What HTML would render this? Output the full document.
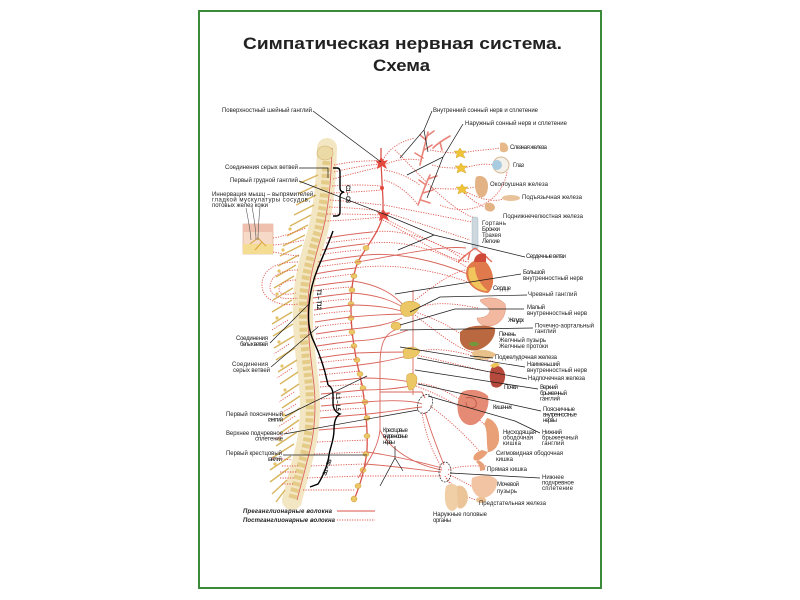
<!DOCTYPE html>
<html><head><meta charset="utf-8">
<style>
html,body{margin:0;padding:0;background:#fff;}
svg{display:block;}
text{font-family:"Liberation Sans","DejaVu Sans",sans-serif;fill:#222;}
.l{font-size:6px;}
.k{stroke:#1a1a1a;stroke-width:0.7;fill:none;}
.r{stroke:#d9665c;stroke-width:0.9;fill:none;}
.d{stroke:#e0574e;stroke-width:0.9;fill:none;stroke-dasharray:1.2 1.3;}
.b{stroke:#000;stroke-width:1.4;fill:none;}
.y{stroke:#d8b55e;stroke-width:1.4;fill:none;}
.p{stroke:#e8847a;stroke-width:1.6;fill:none;stroke-linecap:round;}
.g{fill:#ebc766;stroke:#c99a35;stroke-width:0.5;}
</style></head><body>
<svg width="800" height="600" viewBox="0 0 800 600" xmlns="http://www.w3.org/2000/svg">
<rect width="800" height="600" fill="#fff"/>
<rect x="199" y="11" width="402" height="577" fill="none" stroke="#3a8a3a" stroke-width="2"/>

<!-- Title -->
<text x="243" y="49" font-size="17" font-weight="bold" textLength="319" lengthAdjust="spacingAndGlyphs">Симпатическая нервная система.</text>
<text x="373" y="71" font-size="17" font-weight="bold" textLength="57" lengthAdjust="spacingAndGlyphs">Схема</text>

<!-- Spine -->
<path d="M327,148 C326,180 324,205 318,230 C312,252 305,272 303,300 C302,330 306,360 309,385 C311,405 310,430 305,450 C300,470 296,485 292,500" stroke="#f3e6c2" stroke-width="20" fill="none" stroke-linecap="round"/>
<path d="M327,148 C326,180 324,205 318,230 C312,252 305,272 303,300 C302,330 306,360 309,385 C311,405 310,430 305,450 C300,470 296,485 292,500" stroke="#e4cb88" stroke-width="8" fill="none" stroke-dasharray="4 2.5"/>
<path d="M332,148 C331,180 329,205 323,230 C317,252 310,272 308,300 C307,330 311,360 314,385 C316,405 315,430 310,450 C305,470 301,485 297,500" class="r"/>
<ellipse cx="325" cy="153" rx="8" ry="7" fill="#ecdaa6" stroke="#cdb06c" stroke-width="0.6"/>

<!-- spinal nerves (yellow) -->
<g class="y">
<path d="M318,175 L300,183"/><path d="M317,185 L298,194"/><path d="M316,195 L296,205"/><path d="M314,205 L294,215"/>
<path d="M311,215 L290,226"/><path d="M308,225 L287,236"/><path d="M305,235 L283,246"/><path d="M302,245 L280,256"/>
<path d="M299,255 L278,266"/><path d="M296,265 L276,277"/><path d="M294,276 L274,288"/><path d="M293,288 L273,300"/>
<path d="M292,300 L272,312"/><path d="M292,312 L272,324"/><path d="M293,324 L273,336"/><path d="M294,336 L274,348"/>
<path d="M295,348 L276,360"/><path d="M297,360 L278,372"/><path d="M298,372 L280,384"/><path d="M299,384 L281,396"/>
<path d="M300,396 L282,408"/><path d="M300,408 L281,421"/><path d="M299,420 L279,434"/><path d="M297,432 L276,446"/>
<path d="M294,444 L272,458"/><path d="M291,456 L270,470"/><path d="M289,468 L270,482"/><path d="M287,480 L272,494"/><path d="M285,490 L276,502"/>
</g>
<g fill="#e6c46a">
<circle cx="290" cy="229" r="1.6"/><circle cx="283" cy="250" r="1.6"/><circle cx="279" cy="271" r="1.6"/><circle cx="277" cy="294" r="1.6"/>
<circle cx="277" cy="318" r="1.6"/><circle cx="279" cy="342" r="1.6"/><circle cx="282" cy="366" r="1.6"/><circle cx="285" cy="390" r="1.6"/>
<circle cx="284" cy="415" r="1.6"/><circle cx="280" cy="440" r="1.6"/><circle cx="275" cy="464" r="1.6"/>
</g>

<!-- left dotted fibres -->
<g class="d">
<path d="M298,262 C275,262 262,270 262,285 C262,300 280,307 298,304"/>
<path d="M298,270 C281,270 270,276 270,287 C270,297 283,300 298,298"/>
<path d="M296,280 C286,280 279,284 279,290 C279,295 288,295 296,293"/>
<path d="M273,238 C285,236 295,232 306,228"/>
<path d="M273,245 C285,244 296,242 304,240"/>
<path d="M273,252 C285,254 294,256 300,256"/>
<path d="M288,320 L272,330"/><path d="M289,344 L274,354"/><path d="M292,368 L277,378"/><path d="M294,392 L279,402"/>
<path d="M296,404 L280,414"/><path d="M295,416 L278,427"/><path d="M293,428 L275,440"/>
<path d="M282,466 L298,466"/><path d="M280,472 L297,472"/><path d="M280,478 L295,478"/><path d="M282,484 L293,484"/><path d="M272,458 L292,460"/>
</g>

<!-- Skin block -->
<rect x="243" y="224" width="30" height="30" fill="#f6d9c6" stroke="#d9a58c" stroke-width="0.6"/>
<rect x="243" y="224" width="30" height="8" fill="#f0c0ae"/>
<rect x="243" y="244" width="30" height="10" fill="#f4dc92"/>
<path d="M250,244 L258,238 L266,246 M255,250 L262,242" stroke="#d9a63a" stroke-width="1" fill="none"/>
<path d="M246,208 C248,218 250,228 251,240 M252,207 C254,218 256,228 256,240 M260,207 C259,218 258,228 258,240" stroke="#555" stroke-width="0.6" fill="none"/>

<!-- Right sympathetic chain -->
<path d="M381,148 L381,163 L383,200 L383,215 C380,230 368,245 360,258 C353,270 351,290 351,310 C351,335 356,360 362,385 C366,410 368,430 367,450 C365,470 360,485 354,500" stroke="#d9534a" stroke-width="1.3" fill="none"/>
<g fill="#e4483c">
<path d="M381,157 L384,161 L388,160 L385,164 L387,169 L382,166 L377,169 L378,164 L375,160 L379,161Z"/>
<path d="M383,209 L386,213 L390,212 L387,216 L389,221 L384,218 L379,221 L380,216 L377,212 L381,213Z"/>
<circle cx="382" cy="188" r="2"/>
</g>
<g class="g">
<ellipse cx="366" cy="248" rx="3" ry="2.5"/><ellipse cx="358" cy="262" rx="3" ry="2.5"/><ellipse cx="354" cy="276" rx="3" ry="2.5"/>
<ellipse cx="352" cy="290" rx="3" ry="2.5"/><ellipse cx="351" cy="304" rx="3" ry="2.5"/><ellipse cx="351" cy="318" rx="3" ry="2.5"/>
<ellipse cx="352" cy="332" rx="3" ry="2.5"/><ellipse cx="354" cy="346" rx="3" ry="2.5"/><ellipse cx="357" cy="360" rx="3" ry="2.5"/>
<ellipse cx="360" cy="374" rx="3" ry="2.5"/><ellipse cx="363" cy="388" rx="3" ry="2.5"/><ellipse cx="365" cy="402" rx="3" ry="2.5"/>
<ellipse cx="367" cy="418" rx="3" ry="2.5"/><ellipse cx="367" cy="436" rx="3" ry="2.5"/><ellipse cx="366" cy="454" rx="3" ry="2.5"/>
<ellipse cx="363" cy="470" rx="3" ry="2.5"/><ellipse cx="358" cy="486" rx="3" ry="2.5"/><ellipse cx="354" cy="499" rx="3" ry="3"/>
</g>

<!-- cervical connections (dotted) -->
<g class="d">
<path d="M334,165 Q358,160 380,161"/><path d="M334,172 Q358,166 380,164"/><path d="M333,179 Q358,172 380,167"/>
<path d="M332,186 Q358,184 381,186"/><path d="M331,193 Q358,192 382,190"/><path d="M330,200 Q358,202 382,205"/>
<path d="M329,207 Q358,208 382,211"/><path d="M327,214 Q356,214 382,215"/><path d="M325,221 Q355,220 381,217"/>
</g>

<!-- thoracic / lumbar connections (solid + dotted) -->
<g class="r">
<path d="M327,238 Q350,234 372,232"/><path d="M322,250 Q345,246 364,244"/><path d="M318,262 Q340,258 359,256"/>
<path d="M315,274 Q336,270 355,268"/><path d="M314,286 Q334,283 353,281"/><path d="M313,298 Q333,295 352,293"/>
<path d="M314,310 Q333,307 351,305"/><path d="M315,322 Q334,319 351,317"/><path d="M316,334 Q335,331 352,329"/>
<path d="M317,346 Q336,343 354,341"/><path d="M318,358 Q338,355 356,353"/><path d="M319,370 Q340,367 359,365"/>
<path d="M320,382 Q342,380 362,378"/><path d="M321,394 Q343,392 364,390"/><path d="M321,406 Q344,404 366,402"/>
<path d="M320,418 Q344,416 367,414"/><path d="M319,430 Q344,428 367,426"/>
</g>
<g class="d">
<path d="M326,243 Q350,240 370,238"/><path d="M320,255 Q343,251 362,250"/><path d="M317,267 Q338,264 357,262"/>
<path d="M315,279 Q335,276 354,274"/><path d="M313,291 Q333,288 352,287"/><path d="M313,303 Q333,300 351,299"/>
<path d="M314,315 Q333,312 351,311"/><path d="M315,327 Q334,324 351,323"/><path d="M316,339 Q335,336 353,335"/>
<path d="M317,351 Q337,348 355,347"/><path d="M318,363 Q339,360 357,359"/><path d="M319,375 Q341,373 360,371"/>
<path d="M320,387 Q342,385 363,384"/><path d="M321,399 Q344,397 365,396"/><path d="M320,411 Q344,409 366,408"/>
<path d="M317,442 Q342,441 367,440"/><path d="M314,454 Q340,453 366,452"/><path d="M311,466 Q337,465 364,464"/>
<path d="M307,478 Q333,477 360,476"/><path d="M303,490 Q330,490 355,490"/>
</g>

<!-- head region -->
<g class="d">
<path d="M383,160 C388,150 398,142 415,138"/><path d="M384,165 C395,160 405,158 420,160"/>
<path d="M384,170 C398,172 410,178 420,185"/><path d="M384,180 C400,185 410,195 418,205"/>
<path d="M384,205 C410,210 440,216 472,222"/><path d="M384,212 C410,220 440,230 470,240"/>
<path d="M384,218 C410,232 440,246 466,256"/>
<path d="M430,150 C440,152 450,153 458,153"/><path d="M432,165 C442,168 450,168 458,168"/>
<path d="M430,188 C440,189 450,189 459,189"/>
<path d="M463,153 C475,150 490,150 500,148"/><path d="M464,168 C475,165 485,163 493,165"/>
<path d="M465,189 C470,188 474,187 476,187"/><path d="M465,191 C480,200 495,202 503,199"/>
<path d="M464,193 C472,200 480,206 486,207"/>
<path d="M440,205 C470,218 502,202 507,172"/>
<path d="M395,150 C420,175 450,210 475,218"/>
</g>
<g class="p">
<path d="M420,165 C422,155 425,145 428,132"/><path d="M424,150 L432,145"/><path d="M426,140 L420,135"/><path d="M427,136 L434,131"/><path d="M423,158 L415,153"/>
<path d="M418,205 C422,195 425,185 430,175"/><path d="M423,193 L433,190"/><path d="M426,185 L419,180"/><path d="M428,179 L437,176"/><path d="M421,200 L430,203"/>
<path d="M433,148 C438,143 443,140 450,136"/><path d="M440,142 L442,150"/>
</g>
<g fill="#f0c43a" stroke="#c89a20" stroke-width="0.4">
<path d="M460,148 L462,151 L466,151 L463,154 L465,158 L460,156 L456,158 L457,154 L454,151 L458,151Z"/>
<path d="M461,163 L463,166 L467,166 L464,169 L466,173 L461,171 L457,173 L458,169 L455,166 L459,166Z"/>
<path d="M462,184 L464,187 L468,187 L465,190 L467,194 L462,192 L458,194 L459,190 L456,187 L460,187Z"/>
</g>

<!-- heart & lungs region lines -->
<g class="d">
<path d="M372,232 C400,228 440,240 466,262"/><path d="M364,244 C400,238 440,250 468,268"/>
<path d="M355,268 C395,262 440,272 468,282"/><path d="M383,220 C420,240 445,260 470,262"/>
</g>
<g class="r">
<path d="M359,256 C395,250 440,262 470,275"/><path d="M357,262 C395,256 440,245 466,248"/>
</g>

<!-- splanchnic -->
<g class="r">
<path d="M353,281 C380,285 395,295 405,307"/><path d="M352,293 C380,295 395,302 406,309"/>
<path d="M351,305 C375,305 392,308 404,312"/><path d="M351,317 C375,315 392,314 405,314"/>
<path d="M352,329 C375,327 390,324 402,318"/><path d="M354,341 C380,340 395,335 408,330"/>
<path d="M356,353 C380,352 395,352 410,352"/><path d="M359,365 C385,362 400,358 410,355"/>
<path d="M362,378 C385,378 400,380 410,382"/><path d="M364,390 C385,390 400,388 411,386"/>
<path d="M366,402 C390,400 410,400 422,404"/><path d="M367,414 C390,412 410,408 422,407"/>
<path d="M413,290 L413,395"/>
<path d="M395,330 C382,335 380,350 380,365 L380,430 C378,448 368,462 358,478"/>
<path d="M380,392 L422,392 L425,398"/>
<path d="M425,412 C430,430 438,450 444,465"/>
<path d="M367,452 C395,456 420,462 442,468"/><path d="M364,464 C395,466 420,470 441,472"/>
<path d="M380,430 C390,450 415,465 442,470"/>
</g>
<g class="d">
<path d="M422,412 C425,435 434,455 441,466"/>
<path d="M360,476 C395,476 420,476 442,476"/>
<path d="M415,308 C440,300 460,305 478,308"/><path d="M415,312 C440,320 455,330 462,335"/>
<path d="M415,315 C440,335 460,350 474,353"/><path d="M416,355 C440,360 470,368 490,372"/>
<path d="M416,352 C440,345 470,355 495,362"/><path d="M416,383 C440,385 450,395 462,400"/>
<path d="M416,386 C440,395 470,410 485,425"/><path d="M430,406 C450,420 470,440 480,452"/>
<path d="M448,470 C460,465 475,466 487,466"/><path d="M448,474 C460,480 470,485 474,488"/>
<path d="M446,478 C450,485 455,488 456,492"/><path d="M445,476 C455,490 470,500 478,500"/>
<path d="M415,300 C430,290 445,275 465,270"/>
</g>
<!-- prevertebral ganglia -->
<g class="g">
<path d="M401,305 C405,300 415,300 420,305 C418,312 412,318 404,316 C400,313 400,309 401,305Z"/>
<path d="M403,350 C408,346 416,346 420,351 C418,357 410,360 404,358Z"/>
<path d="M407,375 C410,372 416,373 417,378 C417,385 414,391 409,390 C407,385 406,380 407,375Z"/>
<ellipse cx="396" cy="326" rx="5" ry="4"/>
</g>
<ellipse cx="425" cy="404" rx="7" ry="10" transform="rotate(25 425 404)" fill="none" stroke="#222" stroke-width="0.7" stroke-dasharray="2 1"/>
<ellipse cx="445" cy="472" rx="6" ry="10" fill="none" stroke="#222" stroke-width="0.7" stroke-dasharray="2 1"/>

<!-- organs -->
<path d="M500,143 C505,141 509,145 508,150 C506,153 501,153 500,150Z" fill="#e6b88a"/>
<circle cx="501" cy="165" r="8" fill="#f4f0ea" stroke="#d9b894" stroke-width="1"/>
<circle cx="497" cy="165" r="5" fill="#a9cbe0"/>
<path d="M476,177 C482,174 488,178 488,186 C488,194 484,199 479,197 C475,192 474,184 476,177Z" fill="#e3b386"/>
<ellipse cx="511" cy="198" rx="9" ry="3" fill="#e8c29a"/>
<path d="M485,204 C489,201 495,203 495,208 C494,212 488,213 485,209Z" fill="#e3b386"/>
<rect x="472" y="217" width="6" height="33" rx="2" fill="#cdd8de" stroke="#a9b8c2" stroke-width="0.5"/>
<path d="M475,248 L462,258 M475,248 L488,258 M466,255 L458,262 M484,255 L492,262 M470,252 L468,260" stroke="#e56e5e" stroke-width="1.4" fill="none"/>
<path d="M468,266 C462,276 470,292 488,293 C496,286 494,270 486,262 C480,258 472,260 468,266Z" fill="#e0794c"/>
<path d="M469,268 C466,280 474,291 488,291 C480,284 475,276 475,267Z" fill="#f2c45c"/>
<path d="M474,262 C474,255 480,252 486,254 L486,262Z" fill="#d04a3a"/>
<path d="M480,300 C490,296 500,298 505,304 C507,312 503,322 494,325 C486,328 478,325 477,318 C482,318 488,317 490,311 C488,305 482,305 480,300Z" fill="#f3b9a0" stroke="#d98a70" stroke-width="0.5"/>
<path d="M460,332 C468,325 485,324 495,328 C496,336 490,346 478,350 C468,352 461,347 460,340Z" fill="#b9683f"/>
<ellipse cx="474" cy="344" rx="5" ry="2" fill="#6f9a3c"/>
<path d="M472,352 C480,348 490,350 496,354 C494,359 484,361 476,359 C473,357 472,355 472,352Z" fill="#e8c08a"/>
<path d="M492,367 C500,363 506,370 505,378 C504,386 497,390 492,386 C489,380 489,372 492,367Z" fill="#b54a3c"/>
<path d="M490,366 C493,362 498,362 500,365 L494,368Z" fill="#f0c45a"/>
<path d="M462,392 C470,388 482,390 488,396 C490,405 486,414 480,420 C474,428 464,426 460,418 C456,410 457,398 462,392Z" fill="#e58a74"/>
<path d="M466,398 C472,396 478,400 476,406 C472,410 466,408 466,402" stroke="#c25e4c" stroke-width="1" fill="none"/>
<path d="M487,418 C496,420 500,430 499,440 C498,448 492,452 488,452 C486,442 488,430 484,424Z" fill="#e9a077"/>
<path d="M488,452 C484,458 478,462 474,460 C472,456 476,452 482,450Z" fill="#e9a077"/>
<path d="M478,460 C483,462 486,466 485,470 L480,471 C480,466 478,463 476,462Z" fill="#e6a07a"/>
<path d="M472,478 C480,474 492,474 497,480 C498,490 490,498 482,498 C474,496 470,488 472,478Z" fill="#f2c4a4"/>
<ellipse cx="481" cy="500" rx="5" ry="3" fill="#ecc090"/>
<path d="M446,486 C452,482 458,484 460,492 C462,500 458,510 452,511 C446,510 443,500 446,486Z" fill="#f0cfa6"/>
<path d="M457,486 C463,484 468,490 468,498 C467,506 462,510 458,508Z" fill="#ebc597"/>

<!-- brackets -->
<path class="b" d="M333,168 L337,168 Q340,168 340,172 L340,188 Q340,192 344,192 Q340,193 340,197 L340,212 Q340,216 336,216 L333,216"/>
<path class="b" d="M333,231 C328,245 322,258 318,268 C313,280 310,292 309,305 C308,318 308,330 314,342 C320,355 325,370 328,385"/>
<path class="b" d="M328,385 C334,388 333,395 333,403 C333,410 337,413 340,414 C336,416 334,422 334,430 C334,440 330,448 329,455 C328,465 322,478 318,484 L310,487"/>
<text class="l" font-weight="bold" transform="translate(346,185) rotate(90)" textLength="18">С1 – С8</text>
<text class="l" font-weight="bold" transform="translate(317,289) rotate(90)" textLength="21">Т1 – Т12</text>
<text class="l" font-weight="bold" transform="translate(336,393) rotate(90)" textLength="18">L1 – L5</text>
<text class="l" font-weight="bold" transform="translate(326,476) rotate(-70)" textLength="17">S1 – S5</text>

<!-- leader lines -->
<g class="k">
<path d="M313,111 L381,162"/>
<path d="M299,168 L328,168 L328,178"/>
<path d="M299,181 L384,214"/>
<path d="M432,111 L424,130 L400,158 M424,130 L428,152"/>
<path d="M463,124 L443,157 L407,175 M443,157 L427,198"/>
<path d="M525,257 L434,235 L384,214 M434,235 L398,250"/>
<path d="M521,274 L395,294"/>
<path d="M527,295 L440,297 L410,312"/>
<path d="M524,309 L455,309 L400,325"/>
<path d="M533,328 L400,330"/>
<path d="M493,358 L470,356"/>
<path d="M525,367 L400,347"/>
<path d="M527,379 L417,358"/>
<path d="M538,389 L415,370"/>
<path d="M541,411 L418,384"/>
<path d="M540,433 L515,421 L428,396"/>
<path d="M540,478 L450,473"/>
<path d="M270,343 L310,303"/>
<path d="M271,367 L318,327"/>
<path d="M285,416 L367,376"/>
<path d="M284,434 L418,410"/>
<path d="M283,455 L367,455"/>
<path d="M395,446 L395,458 L380,486 M395,458 L403,471"/>
</g>

<!-- labels -->
<g class="l">
<text x="222" y="112" textLength="90">Поверхностный шейный ганглий</text>
<text x="225" y="169" textLength="73">Соединения серых ветвей</text>
<text x="230" y="182" textLength="68">Первый грудной ганглий</text>
<text x="212" y="196" textLength="103">Иннервация  мышц – выпрямителей,</text>
<text x="212" y="201.5" textLength="98">гладкой мускулатуры сосудов,</text>
<text x="212" y="207" textLength="56">потовых желез кожи</text>
<text x="433" y="112" textLength="105">Внутренний сонный нерв и сплетение</text>
<text x="465" y="125" textLength="102">Наружный сонный нерв и сплетение</text>
<text x="510" y="149" textLength="37">Слезная железа</text>
<text x="513" y="167" textLength="11">Глаз</text>
<text x="490" y="186" textLength="58">Околоушная железа</text>
<text x="522" y="199" textLength="60">Подъязычная железа</text>
<text x="503" y="218" textLength="80">Поднижнечелюстная железа</text>
<text x="482" y="225" textLength="24">Гортань</text>
<text x="482" y="231" textLength="18">Бронхи</text>
<text x="482" y="237" textLength="19">Трахея</text>
<text x="482" y="243" textLength="18">Легкие</text>
<text x="526" y="258" textLength="40">Сердечные ветви</text>
<text x="523" y="274" textLength="22">Большой</text>
<text x="523" y="280" textLength="60">внутренностный нерв</text>
<text x="493" y="290" textLength="18">Сердце</text>
<text x="528" y="296" textLength="49">Чревный ганглий</text>
<text x="527" y="309" textLength="18">Малый</text>
<text x="527" y="315" textLength="60">внутренностный нерв</text>
<text x="508" y="322" textLength="16">Желудок</text>
<text x="535" y="327.5" textLength="59">Почечно-аортальный</text>
<text x="535" y="333" textLength="21">ганглий</text>
<text x="499" y="336" textLength="17">Печень</text>
<text x="499" y="342" textLength="47">Желчный пузырь</text>
<text x="499" y="348" textLength="49">Желчные протоки</text>
<text x="495" y="359" textLength="62">Поджелудочная железа</text>
<text x="527" y="366" textLength="33">Наименьший</text>
<text x="527" y="372" textLength="60">внутренностный нерв</text>
<text x="528" y="380" textLength="57">Надпочечная железа</text>
<text x="504" y="389" textLength="14">Почки</text>
<text x="540" y="389" textLength="18">Верхний</text>
<text x="540" y="395" textLength="27">брыжеечный</text>
<text x="540" y="400.5" textLength="20">ганглий</text>
<text x="493" y="409" textLength="19">Кишечник</text>
<text x="543" y="411" textLength="32">Поясничные</text>
<text x="543" y="416.5" textLength="34">внутренностные</text>
<text x="543" y="422" textLength="14">нервы</text>
<text x="503" y="434" textLength="33">Нисходящая</text>
<text x="503" y="439.5" textLength="30">ободочная</text>
<text x="503" y="445" textLength="18">кишка</text>
<text x="542" y="434" textLength="20">Нижний</text>
<text x="542" y="439.5" textLength="36">брыжеечный</text>
<text x="542" y="445" textLength="22">ганглий</text>
<text x="496" y="455" textLength="67">Сигмовидная ободочная</text>
<text x="496" y="461" textLength="17">кишка</text>
<text x="487" y="471" textLength="40">Прямая кишка</text>
<text x="542" y="479" textLength="22">Нижнее</text>
<text x="542" y="484.5" textLength="32">подчревное</text>
<text x="542" y="490" textLength="31">сплетение</text>
<text x="497" y="486" textLength="22">Мочевой</text>
<text x="497" y="493" textLength="20">пузырь</text>
<text x="479" y="505" textLength="67">Предстательная железа</text>
<text x="433" y="516" textLength="54">Наружные половые</text>
<text x="433" y="522" textLength="18">органы</text>
<text x="236" y="340" textLength="32">Соединения</text>
<text x="240" y="346" textLength="28">белых ветвей</text>
<text x="232" y="366" textLength="36">Соединения</text>
<text x="233" y="372" textLength="37">серых ветвей</text>
<text x="226" y="416" textLength="57">Первый поясничный</text>
<text x="268" y="421.5" textLength="15">ганглий</text>
<text x="226" y="435" textLength="57">Верхнее подчревное</text>
<text x="255" y="440.5" textLength="28">сплетение</text>
<text x="226" y="455" textLength="56">Первый крестцовый</text>
<text x="268" y="461" textLength="14">ганглий</text>
<text x="383" y="432" textLength="25">Крестцовые</text>
<text x="383" y="438" textLength="25">внутренностные</text>
<text x="383" y="444" textLength="12">нервы</text>
</g>

<!-- legend -->
<text x="243" y="513" font-size="6" font-weight="bold" font-style="italic" textLength="89">Преганглионарные волокна</text>
<text x="243" y="522" font-size="6" font-weight="bold" font-style="italic" textLength="92">Постганглионарные волокна</text>
<path d="M337,511 L375,511" stroke="#d9534a" stroke-width="0.9"/>
<path d="M337,520 L375,520" stroke="#e0574e" stroke-width="0.9" stroke-dasharray="1.2 1.3"/>
</svg>
</body></html>
